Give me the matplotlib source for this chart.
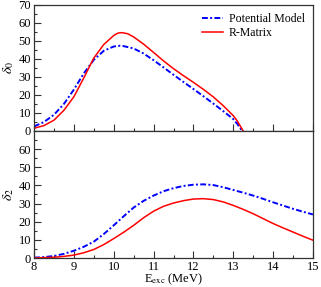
import numpy as np
import matplotlib.pyplot as plt
from matplotlib.ticker import MultipleLocator

plt.rcParams['font.family'] = ['Liberation Serif', 'DejaVu Serif']
plt.rcParams['mathtext.fontset'] = 'stix'

# delta_0 (upper panel)
e_pm0 = [8.0, 8.25, 8.5, 8.75, 9.0, 9.25, 9.5, 9.75, 10.0, 10.15, 10.25, 10.5, 10.75,
         11.0, 11.25, 11.5, 11.75, 12.0, 12.25, 12.5, 12.75, 13.0, 13.1, 13.22]
d_pm0 = [2.5, 5.0, 9.0, 15.0, 23.0, 32.0, 39.5, 44.5, 46.9, 47.3, 47.1, 45.8, 43.0,
         39.3, 35.3, 31.2, 27.2, 23.3, 19.3, 15.2, 11.0, 6.6, 4.0, 0.0]
e_rm0 = [8.0, 8.25, 8.5, 8.75, 9.0, 9.25, 9.5, 9.75, 10.0, 10.1, 10.2, 10.35, 10.5,
         10.75, 11.0, 11.25, 11.5, 11.75, 12.0, 12.25, 12.5, 12.75, 13.0, 13.1, 13.25]
d_rm0 = [1.5, 3.0, 6.0, 11.5, 19.0, 29.5, 40.5, 48.0, 53.0, 54.3, 54.6, 54.0, 52.2,
         48.2, 43.6, 38.9, 34.6, 30.7, 27.0, 23.1, 18.9, 14.0, 8.5, 5.6, 0.0]

# delta_2 (lower panel)
e_2 = [8.0, 8.25, 8.5, 8.75, 9.0, 9.25, 9.5, 9.75, 10.0, 10.25, 10.5, 10.75,
       11.0, 11.25, 11.5, 11.75, 12.0, 12.25, 12.5, 12.75, 13.0, 13.25, 13.5,
       13.75, 14.0, 14.25, 14.5, 14.75, 15.0]
d_pm2 = [0.2, 0.5, 1.1, 2.3, 4.0, 6.2, 9.0, 13.2, 18.0, 23.0, 27.8, 31.5,
         34.4, 36.8, 38.5, 39.7, 40.4, 40.6, 40.2, 39.0, 37.5, 36.0, 34.4,
         32.6, 30.7, 28.9, 27.1, 25.5, 24.0]
d_rm2 = [0.0, 0.2, 0.4, 0.9, 1.6, 2.9, 4.7, 7.4, 10.7, 14.2, 18.0, 22.2,
         25.8, 28.5, 30.3, 31.6, 32.5, 32.7, 32.2, 30.9, 29.0, 26.8, 24.4,
         21.7, 19.0, 16.6, 14.3, 12.0, 9.8]

fig = plt.figure(figsize=(3.21, 2.87), dpi=100)
ax1 = fig.add_axes([0.106, 0.5436, 0.869, 0.4394])
ax2 = fig.add_axes([0.106, 0.101, 0.869, 0.4426])

blue = '#0000ff'
red = '#ff0000'
dash = (3.0, 1.2, 1.0, 1.2)

ax1.plot(e_pm0, d_pm0, color=blue, lw=1.4, dashes=dash, label='Potential Model')
ax1.plot(e_rm0, d_rm0, color=red, lw=1.1, label='R-Matrix')
ax2.plot(e_2, d_pm2, color=blue, lw=1.4, dashes=dash)
ax2.plot(e_2, d_rm2, color=red, lw=1.1)

for ax in (ax1, ax2):
    ax.set_xlim(8, 15)
    ax.set_ylim(0, 70)
    ax.xaxis.set_major_locator(MultipleLocator(1))
    ax.xaxis.set_minor_locator(MultipleLocator(0.5))
    ax.yaxis.set_major_locator(MultipleLocator(10))
    ax.yaxis.set_minor_locator(MultipleLocator(5))
    ax.tick_params(which='both', direction='in', top=False, right=False,
                   labelsize=9, pad=2, color='#333333', width=0.8)
    ax.tick_params(which='major', length=5)
    ax.tick_params(which='minor', length=2.5)
    for s in ax.spines.values():
        s.set_color('#333333')
        s.set_linewidth(0.9)

ax1.tick_params(labelbottom=False)
ax2.set_yticks([0, 10, 20, 30, 40, 50, 60])

ax1.set_ylabel(r'$\delta_0$', fontsize=10, labelpad=2)
ax2.set_ylabel(r'$\delta_2$', fontsize=10, labelpad=2)
ax2.set_xlabel(r'E$_{\rm exc}$ (MeV)', fontsize=9, labelpad=-1)

ax1.legend(loc='upper right', frameon=False, fontsize=8.5, handlelength=1.8,
           handletextpad=0.5, labelspacing=0.15, borderaxespad=0.3)

fig.savefig('out.png', dpi=100)
